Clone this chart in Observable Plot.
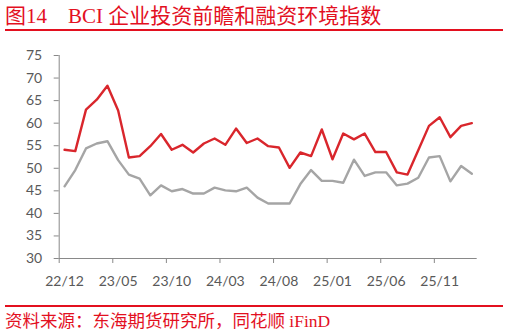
<!DOCTYPE html>
<html>
<head>
<meta charset="utf-8">
<script src="https://cdn.jsdelivr.net/npm/d3@7"></script>
<script src="https://cdn.jsdelivr.net/npm/@observablehq/plot@0.6"></script>
<style>
  html, body { margin: 0; padding: 0; background: #fff; }
  #wrap { width: 509px; height: 336px; position: relative; overflow: hidden; }
  #title { position: absolute; left: 5px; top: 0; width: 498px; height: 29px; border-bottom: 2px solid #e3101f;
    font-family: "Liberation Serif", "Noto Sans CJK SC", serif; font-size: 21px; color: #e3101f; line-height: 32px; white-space: pre; }
  #chart { position: absolute; left: 0; top: 31px; }
  #source { position: absolute; left: 5px; top: 305px; width: 498px; border-top: 2px solid #e3101f;
    font-family: "Liberation Serif", "Noto Sans CJK SC", serif; font-size: 17.5px; color: #e3101f; line-height: 29px; white-space: pre; }
</style>
</head>
<body>
<div id="wrap">
  <div id="title">图14　BCI 企业投资前瞻和融资环境指数</div>
  <div id="chart"></div>
  <div id="source">资料来源：东海期货研究所，同花顺 iFinD</div>
</div>
<script>
const months = ["22/12","23/01","23/02","23/03","23/04","23/05","23/06","23/07","23/08","23/09","23/10","23/11",
  "23/12","24/01","24/02","24/03","24/04","24/05","24/06","24/07","24/08","24/09","24/10","24/11",
  "24/12","25/01","25/02","25/03","25/04","25/05","25/06","25/07","25/08","25/09","25/10","25/11",
  "25/12","26/01","26/02"];
const investment = [54.1,53.8,63.0,65.2,68.3,62.8,52.4,52.7,54.9,57.6,54.1,55.2,
  53.5,55.5,56.6,55.2,58.8,55.6,56.6,54.9,54.6,50.1,53.5,52.7,
  58.6,52.0,57.7,56.4,57.7,53.6,53.6,49.1,48.6,54.0,59.4,61.3,
  56.9,59.4,60.0];
const financing = [46.0,49.6,54.4,55.5,56.0,51.8,48.6,47.7,44.0,46.2,44.9,45.4,
  44.4,44.4,45.7,45.1,44.9,45.7,43.5,42.2,42.2,42.2,46.5,49.6,
  47.2,47.2,46.8,51.9,48.3,49.1,49.1,46.2,46.6,47.9,52.4,52.7,
  47.1,50.5,48.8];
const yTicks = [30,35,40,45,50,55,60,65,70,75];
const labelEvery = 5;

const rows = months.map((m, i) => ({i, m, inv: investment[i], fin: financing[i]}));
const labelIdx = months.map((_, i) => i).filter(i => i % labelEvery === 0);
const boundaryIdx = labelIdx.map(i => i - 0.5);

const font = "Lato, 'Open Sans', sans-serif";
const chart = Plot.plot({
  width: 509,
  height: 274,
  marginLeft: 58.7,
  marginRight: 32.3,
  marginTop: 24,
  marginBottom: 47,
  style: {fontFamily: font, fontSize: "14px", color: "#595959", background: "white"},
  x: {type: "linear", domain: [-0.5, months.length - 0.5]},
  y: {domain: [30, 75]},
  marks: [
    Plot.axisY({ticks: yTicks, tickSize: 5, tickPadding: 12, stroke: "#898989", fill: "#595959", label: null, fontSize: 14}),
    Plot.ruleX([-0.5], {stroke: "#898989"}),
    Plot.ruleY([30], {stroke: "#898989"}),
    Plot.axisX({ticks: boundaryIdx, tickSize: 5, stroke: "#898989", text: null, label: null}),
    Plot.axisX({ticks: labelIdx, tickSize: 0, tickPadding: 18, tickFormat: i => months[i], fill: "#595959", label: null, fontSize: 14}),
    Plot.line(rows, {x: "i", y: "fin", stroke: "#a5a5a5", strokeWidth: 2.4}),
    Plot.line(rows, {x: "i", y: "inv", stroke: "#d9262c", strokeWidth: 2.4})
  ]
});
document.getElementById("chart").appendChild(chart);
</script>
</body>
</html>
